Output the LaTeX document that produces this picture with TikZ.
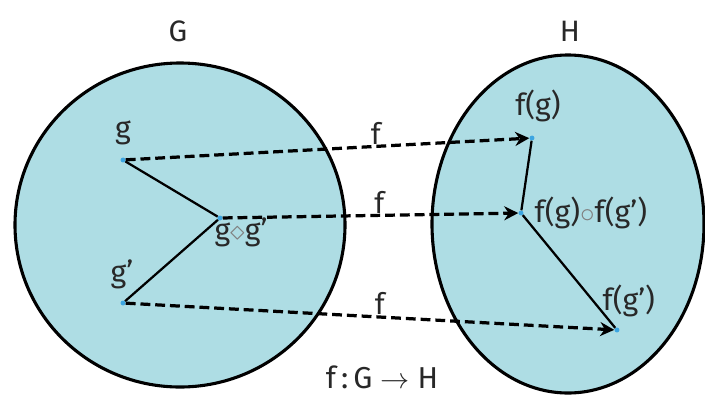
\documentclass[tikz,border=0pt]{standalone}
\usepackage{fontspec}
\setmainfont{Fira Sans}
\usetikzlibrary{positioning, arrows.meta}
\definecolor{setfill}{RGB}{174,221,228}
\definecolor{elemblue}{RGB}{60,165,225}
\definecolor{txtgray}{RGB}{40,40,40}
\tikzset{
  % Sets and their elements
  setbody/.style  = { draw=black, line width=2.2pt, fill=setfill },
  elemdot/.style  = { circle, fill=elemblue, inner sep=0, minimum size=3.5pt },
  setname/.style  = { font=\fontsize{21}{23}\selectfont, text=txtgray, inner sep=1pt },
  elemlabel/.style= { font=\fontsize{21.5}{23}\selectfont, text=txtgray, inner sep=1pt },
  % Connectors
  opline/.style   = { line width=1.6pt },
  mapsto/.style   = { line width=2.3pt, dash pattern=on 7pt off 3.5pt,
                      -{Stealth[length=10pt, width=10pt]} },
  maplabel/.style = { font=\fontsize{21}{23}\selectfont, text=txtgray,
                      inner sep=0.5pt, anchor=south }
}
\begin{document}
\begin{tikzpicture}[x=0.025cm, y=-0.025cm]
  \useasboundingbox (0,0) rectangle (705,396);

  % --- the two sets ---------------------------------------------------
  \draw[setbody] (180,225) ellipse [x radius=165, y radius=162];
  \draw[setbody] (568,224) ellipse [x radius=136, y radius=169];
  \node[setname, anchor=base] (nameG) at (178,41) {G};
  \node[setname, anchor=base] (nameH) at (570,41) {H};

  % --- elements of G ----------------------------------------------------
  \node[elemdot] (g)   at (123,160) {};
  \node[elemdot] (gg)  at (220,218) {};
  \node[elemdot] (gp)  at (123,303) {};
  \node[elemlabel, anchor=base] (lg)  at (123,138) {g};
  \node[elemlabel, anchor=base] (lgp) at (122,282) {g’};
  \node[elemlabel, anchor=base west] (lgg) at (213,240) {g{\color{gray}$\diamond$}g’};

  % --- elements of H ----------------------------------------------------
  \node[elemdot] (fg)  at (532,138) {};
  \node[elemdot] (fgg) at (521,213) {};
  \node[elemdot] (fgp) at (617,330) {};
  \node[elemlabel, anchor=base] (lfg) at (538,115) {f(g)};
  \node[elemlabel, anchor=base west] (lfgg) at (533,222) {f(g){\color{gray}$\circ$}f(g’)};
  \node[elemlabel, anchor=base west] (lfgp) at (601,310) {f(g’)};

  % --- operation inside each set ------------------------------------------
  \draw[opline] (g) -- (gg) -- (gp);
  \draw[opline] (fg) -- (fgg) -- (fgp);

  % --- the map f -----------------------------------------------------------
  \draw[mapsto] (g)  -- node[maplabel, pos=0.62] (f1) {f} (fg);
  \draw[mapsto] (gg) -- node[maplabel, pos=0.53] (f2) {f} (fgg);
  \draw[mapsto] (gp) -- node[maplabel, pos=0.52] (f3) {f} (fgp);

  \node[elemlabel, anchor=base] (mapname) at (382,388) {f\,:\,G $\rightarrow$ H};

\end{tikzpicture}
\end{document}
